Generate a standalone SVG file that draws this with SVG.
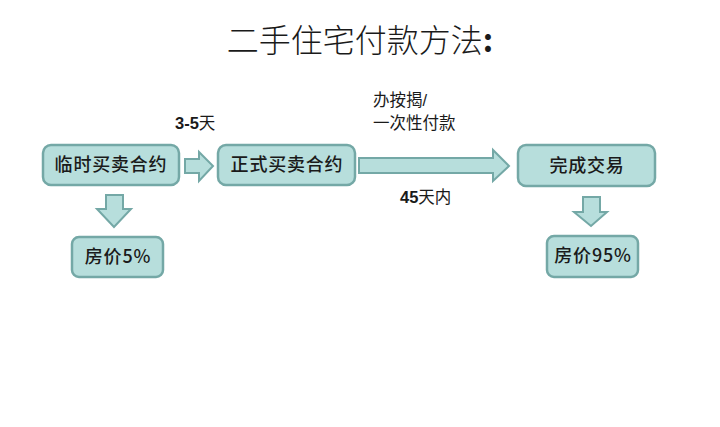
<svg xmlns="http://www.w3.org/2000/svg" width="720" height="427" viewBox="0 0 720 427">
<style>
.box{fill:#b7dedc;stroke:#74a8a6;stroke-width:2.5}
.arr{fill:#b7dedc;stroke:#74a8a6;stroke-width:2;stroke-linejoin:miter}
.t{font-family:"Noto Sans CJK SC","Liberation Sans",sans-serif;fill:#1a1a1a;text-anchor:middle}
.bt{font-size:18px;font-weight:500;letter-spacing:0.8px}
.lab{font-family:"Liberation Sans","Noto Sans CJK SC",sans-serif;font-size:16.5px;fill:#1a1a1a}
</style>
<rect width="720" height="427" fill="#ffffff"/>
<text class="t" x="360" y="52" font-size="32" font-weight="300">二手住宅付款方法<tspan font-weight="bold">:</tspan></text>
<g id="connectors">
<path class="arr" d="M185,159 H199 V152 L213,166 L199,181 V173 H185 Z"/>
<path class="arr" d="M359,158 H493 V150 L509,166 L493,181 V173 H359 Z"/>
<path class="arr" d="M106,195 H123 V209 H131 L114,227 L97,209 H106 Z"/>
<path class="arr" d="M583,197 H600 V212 H607 L591,226 L574,212 H583 Z"/>
</g>
<g id="n1"><rect class="box" x="43" y="145" width="136" height="40" rx="8"/><text class="t bt" x="111" y="171">临时买卖合约</text></g>
<g id="n2"><rect class="box" x="218" y="145" width="137" height="40" rx="8"/><text class="t bt" x="287" y="171">正式买卖合约</text></g>
<g id="n3"><rect class="box" x="518" y="145" width="137" height="41" rx="8"/><text class="t bt" x="587" y="172">完成交易</text></g>
<g id="n4"><rect class="box" x="72" y="237" width="91" height="40" rx="7"/><text class="t bt" x="118" y="263">房价5%</text></g>
<g id="n5"><rect class="box" x="547" y="236" width="91" height="41" rx="7"/><text class="t bt" x="593" y="262">房价95%</text></g>
<g id="labels">
<text class="lab" x="175" y="129"><tspan font-weight="bold">3-5</tspan>天</text>
<text class="lab" x="373" y="106">办按揭/</text>
<text class="lab" x="373" y="129">一次性付款</text>
<text class="lab" x="400" y="203"><tspan font-weight="bold">45</tspan>天内</text>
</g>
</svg>
